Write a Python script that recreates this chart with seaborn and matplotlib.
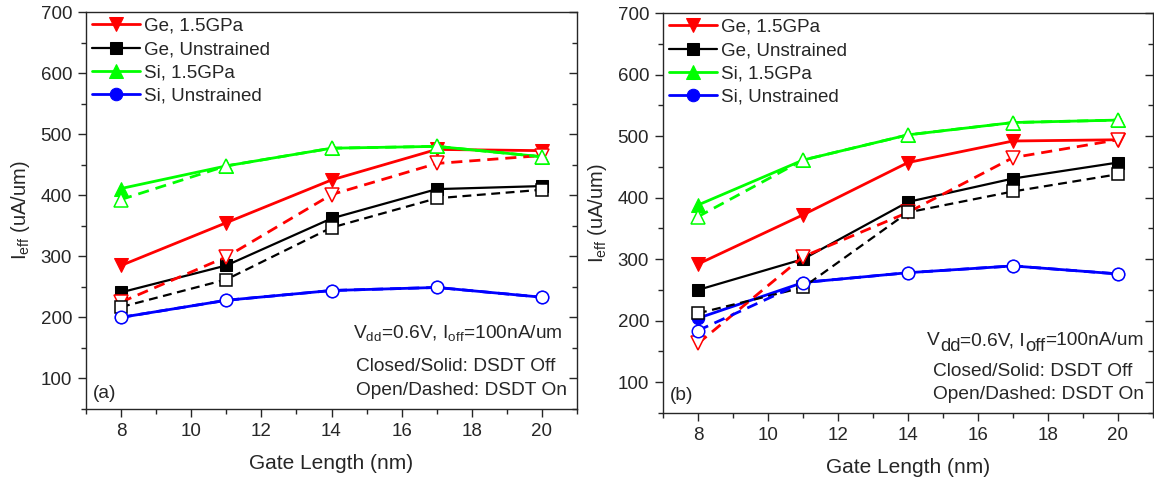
import numpy as np
import pandas as pd
import matplotlib
matplotlib.use('Agg')
import matplotlib.pyplot as plt
from matplotlib.ticker import MultipleLocator
import seaborn as sns

gate_length = [8, 11, 14, 17, 20]
series_names = ['Ge, 1.5GPa', 'Ge, Unstrained', 'Si, 1.5GPa', 'Si, Unstrained']

# panel (a): DSDT off (solid) / DSDT on (dashed)
a_ge_strained_off = [285, 355, 425, 475, 473]
a_ge_strained_on = [225, 299, 401, 452, 465]
a_ge_unstrained_off = [241, 285, 362, 410, 415]
a_ge_unstrained_on = [217, 262, 347, 395, 409]
a_si_strained_off = [411, 448, 477, 480, 463]
a_si_strained_on = [393, 448, 477, 480, 463]
a_si_unstrained_off = [200, 228, 244, 249, 233]
a_si_unstrained_on = [200, 228, 244, 249, 233]

# panel (b)
b_ge_strained_off = [292, 372, 457, 492, 494]
b_ge_strained_on = [163, 304, 376, 465, 494]
b_ge_unstrained_off = [250, 300, 393, 431, 457]
b_ge_unstrained_on = [212, 254, 376, 410, 438]
b_si_strained_off = [388, 461, 502, 522, 526]
b_si_strained_on = [369, 461, 502, 522, 526]
b_si_unstrained_off = [204, 262, 278, 289, 276]
b_si_unstrained_on = [184, 262, 278, 289, 276]

panel_a = {
    'off': [a_ge_strained_off, a_ge_unstrained_off, a_si_strained_off, a_si_unstrained_off],
    'on': [a_ge_strained_on, a_ge_unstrained_on, a_si_strained_on, a_si_unstrained_on],
}
panel_b = {
    'off': [b_ge_strained_off, b_ge_unstrained_off, b_si_strained_off, b_si_unstrained_off],
    'on': [b_ge_strained_on, b_ge_unstrained_on, b_si_strained_on, b_si_unstrained_on],
}

colors = ['#ff0000', '#000000', '#00ff00', '#0000ff']
markers = ['v', 's', '^', 'o']
msizes = [10, 8, 10, 9]
widths = [2.0, 1.6, 2.0, 2.0]

sns.set_style('ticks')
plt.rcParams['font.family'] = ['Liberation Sans', 'DejaVu Sans']
plt.rcParams['mathtext.fontset'] = 'custom'
plt.rcParams['mathtext.rm'] = 'Liberation Sans'
plt.rcParams['mathtext.it'] = 'Liberation Sans'
plt.rcParams['axes.linewidth'] = 1.0

W, H = 1154, 478
fig = plt.figure(figsize=(W / 100, H / 100), dpi=100)
ax_a = fig.add_axes([86 / W, 1 - 409 / H, (577 - 86) / W, (409 - 12) / H])
ax_b = fig.add_axes([663 / W, 1 - 413 / H, (1153 - 663) / W, (413 - 13) / H])

TXT = 13.8


def chain_text(ax, x, y, pieces):
    # pieces: (text, size, drop in points) drawn one after another on a shared baseline
    first, size, _ = pieces[0]
    prev = ax.text(x, y, first, fontsize=size, va='baseline', ha='left')
    for txt, size, drop in pieces[1:]:
        prev = ax.annotate(txt, xy=(1, 0), xycoords=prev, xytext=(0, -drop),
                           textcoords='offset points', fontsize=size,
                           va='bottom', ha='left')
        # keep following pieces on the main baseline
        if drop:
            prev = ax.annotate('', xy=(1, 0), xycoords=prev, xytext=(0, drop),
                               textcoords='offset points', fontsize=size,
                               va='bottom', ha='left')


def draw_panel(ax, data, tag, note_x, note_y, tag_y, big_sub):
    for i, name in enumerate(series_names):
        df = pd.DataFrame({'L': gate_length, 'I': data['off'][i]})
        sns.lineplot(data=df, x='L', y='I', ax=ax, color=colors[i], lw=widths[i],
                     marker=markers[i], markersize=msizes[i], markeredgecolor=colors[i],
                     markerfacecolor=colors[i], label=name, zorder=3)
    for i, name in enumerate(series_names):
        df = pd.DataFrame({'L': gate_length, 'I': data['on'][i]})
        sns.lineplot(data=df, x='L', y='I', ax=ax, color=colors[i], lw=widths[i],
                     marker=markers[i], markersize=msizes[i], markeredgecolor=colors[i],
                     markerfacecolor='white', markeredgewidth=1.1,
                     dashes=(4, 2.5), zorder=4)

    ax.set_xlim(7, 21)
    ax.set_ylim(50, 700)
    ax.xaxis.set_minor_locator(MultipleLocator(1))
    ax.yaxis.set_minor_locator(MultipleLocator(50))
    ax.set_xticks(np.arange(8, 21, 2))
    ax.set_yticks(np.arange(100, 701, 100))
    ax.tick_params(which='major', direction='out', length=6, width=1, labelsize=13.5, pad=4)
    ax.tick_params(which='minor', direction='out', length=3.5, width=1)
    ax.tick_params(axis='y', which='both', right=True)
    for t in ax.yaxis.get_ticklines(minor=False)[1::2] + ax.yaxis.get_ticklines(minor=True)[1::2]:
        t.set_marker(0)  # inward-pointing ticks on the right spine

    ax.set_xlabel('Gate Length (nm)', fontsize=15, labelpad=10)
    ax.set_ylabel(r'I$_{\rm eff}$ (uA/um)', fontsize=14.5, labelpad=6)

    ax.legend(loc='upper left', frameon=False, fontsize=13.5, handlelength=2.6,
              handletextpad=0.2, labelspacing=0.33, borderaxespad=0.1,
              borderpad=0.2)

    if big_sub:
        chain_text(ax, note_x[0], note_y[0], [('V', TXT, 0), ('dd', 13.2, 4),
                                              ('=0.6V, I', TXT, 0), ('off', 13.2, 4),
                                              ('=100nA/um', TXT, 0)])
    else:
        ax.text(note_x[0], note_y[0], r'V$_{\rm dd}$=0.6V, I$_{\rm off}$=100nA/um',
                fontsize=TXT, va='baseline', ha='left')
    ax.text(note_x[1], note_y[1], 'Closed/Solid: DSDT Off', fontsize=TXT,
            va='baseline', ha='left')
    ax.text(note_x[1], note_y[2], 'Open/Dashed: DSDT On', fontsize=TXT,
            va='baseline', ha='left')
    ax.text(7.2, tag_y, tag, fontsize=TXT, va='center', ha='left')


draw_panel(ax_a, panel_a, '(a)', (14.62, 14.7), (167, 112, 73), 76, False)
draw_panel(ax_b, panel_b, '(b)', (14.55, 14.72), (160, 110, 72), 78, True)

fig.savefig('out.png', dpi=100)
